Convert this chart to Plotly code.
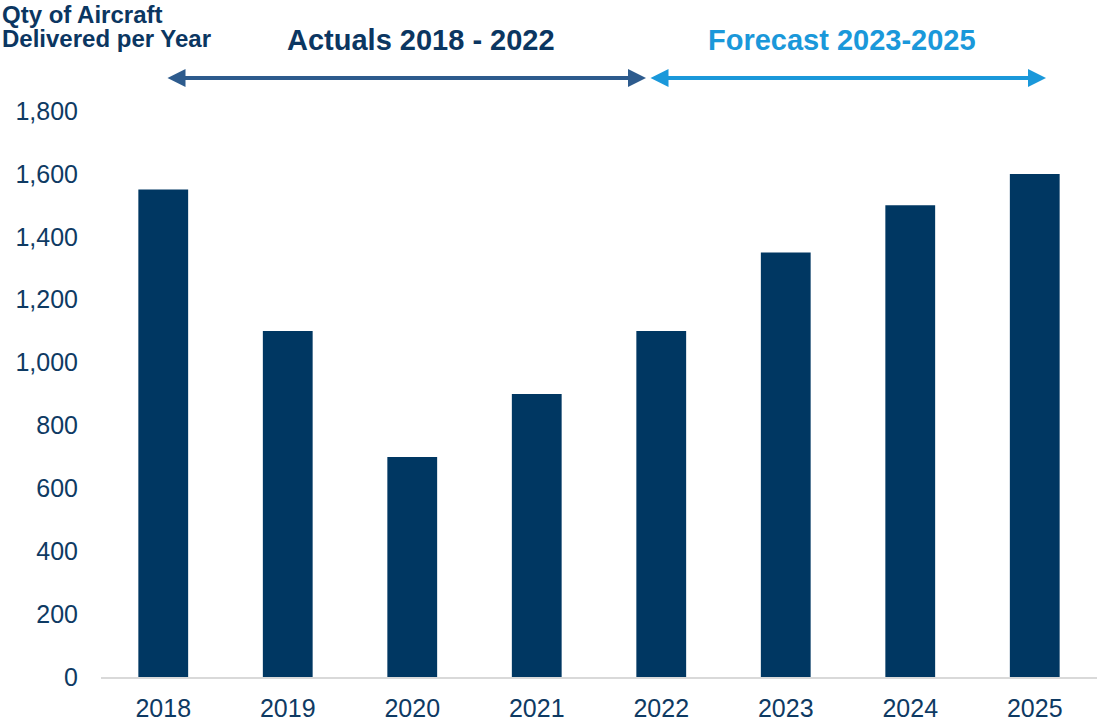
import plotly.graph_objects as go

# Aircraft deliveries per year (actuals 2018-2022, forecast 2023-2025)
years = ["2018", "2019", "2020", "2021", "2022", "2023", "2024", "2025"]
deliveries = [1550, 1100, 700, 900, 1100, 1350, 1500, 1600]
y_ticks = [0, 200, 400, 600, 800, 1000, 1200, 1400, 1600, 1800]

NAVY = "#003762"
TEXT = "#0e3a63"
DARK_ARROW = "#2d5b8d"
LIGHT_BLUE = "#1a98da"
FONT = "Arial, Liberation Sans, sans-serif"

fig = go.Figure()

fig.add_trace(go.Bar(
    x=years,
    y=deliveries,
    marker=dict(color=NAVY, line=dict(width=0)),
    hovertemplate='Year: %{x}<br>Deliveries: %{y:,}<extra></extra>'
))


def px_x(p):
    # pixel -> x domain fraction (plot spans 101..1097)
    return (p - 101) / 996


def px_y(p):
    # pixel -> y domain fraction (plot spans 111..677)
    return (677 - p) / 566


# Period arrows
for x0, x1, col in [(166, 646, DARK_ARROW), (649, 1046, LIGHT_BLUE)]:
    fig.add_annotation(
        xref="x domain", yref="y domain", axref="x domain", ayref="y domain",
        x=px_x(x1), y=px_y(78), ax=px_x(x0), ay=px_y(78),
        text="", showarrow=True, arrowside="end+start",
        arrowhead=2, startarrowhead=2, arrowsize=0.9, startarrowsize=0.9,
        arrowwidth=4, arrowcolor=col, standoff=0, startstandoff=0,
    )

# Period labels
fig.add_annotation(
    xref="paper", yref="paper", x=px_x(421), y=px_y(40),
    text="<b>Actuals 2018 - 2022</b>", showarrow=False,
    font=dict(family=FONT, size=29, color="#0b3661"),
    xanchor="center", yanchor="middle",
)
fig.add_annotation(
    xref="paper", yref="paper", x=px_x(842), y=px_y(40),
    text="<b>Forecast 2023-2025</b>", showarrow=False,
    font=dict(family=FONT, size=29, color=LIGHT_BLUE),
    xanchor="center", yanchor="middle",
)

# Axis title, written as two lines in the top-left corner
for txt, yc in [("Qty of Aircraft", 15), ("Delivered per Year", 39)]:
    fig.add_annotation(
        xref="paper", yref="paper", x=px_x(0), y=px_y(yc),
        text=f"<b>{txt}</b>", showarrow=False,
        font=dict(family=FONT, size=24, color="#0b3661"),
        xanchor="left", yanchor="middle",
    )

fig.update_layout(
    width=1097,
    height=721,
    margin=dict(l=101, r=0, t=111, b=44),
    template='plotly_white',
    plot_bgcolor="white",
    paper_bgcolor="white",
    bargap=0.6,
    showlegend=False,
    font=dict(family=FONT, color=TEXT, size=25),
    xaxis=dict(
        showline=True, linecolor="#d9d9d9", linewidth=2,
        showgrid=False, zeroline=False, ticks="",
        ticklabelstandoff=8, automargin=False,
        tickfont=dict(family=FONT, size=25, color=TEXT),
    ),
    yaxis=dict(
        range=[0, 1800], tickvals=y_ticks, tickformat=",",
        showline=False, showgrid=False, zeroline=False, ticks="",
        ticklabelstandoff=22, automargin=False,
        tickfont=dict(family=FONT, size=25, color=TEXT),
    ),
)

# drop the default page margin so the figure sits at the window's corner
fig.write_html(
    "out.html",
    config={"displayModeBar": False},
    post_script="document.body.style.margin='0';",
)
